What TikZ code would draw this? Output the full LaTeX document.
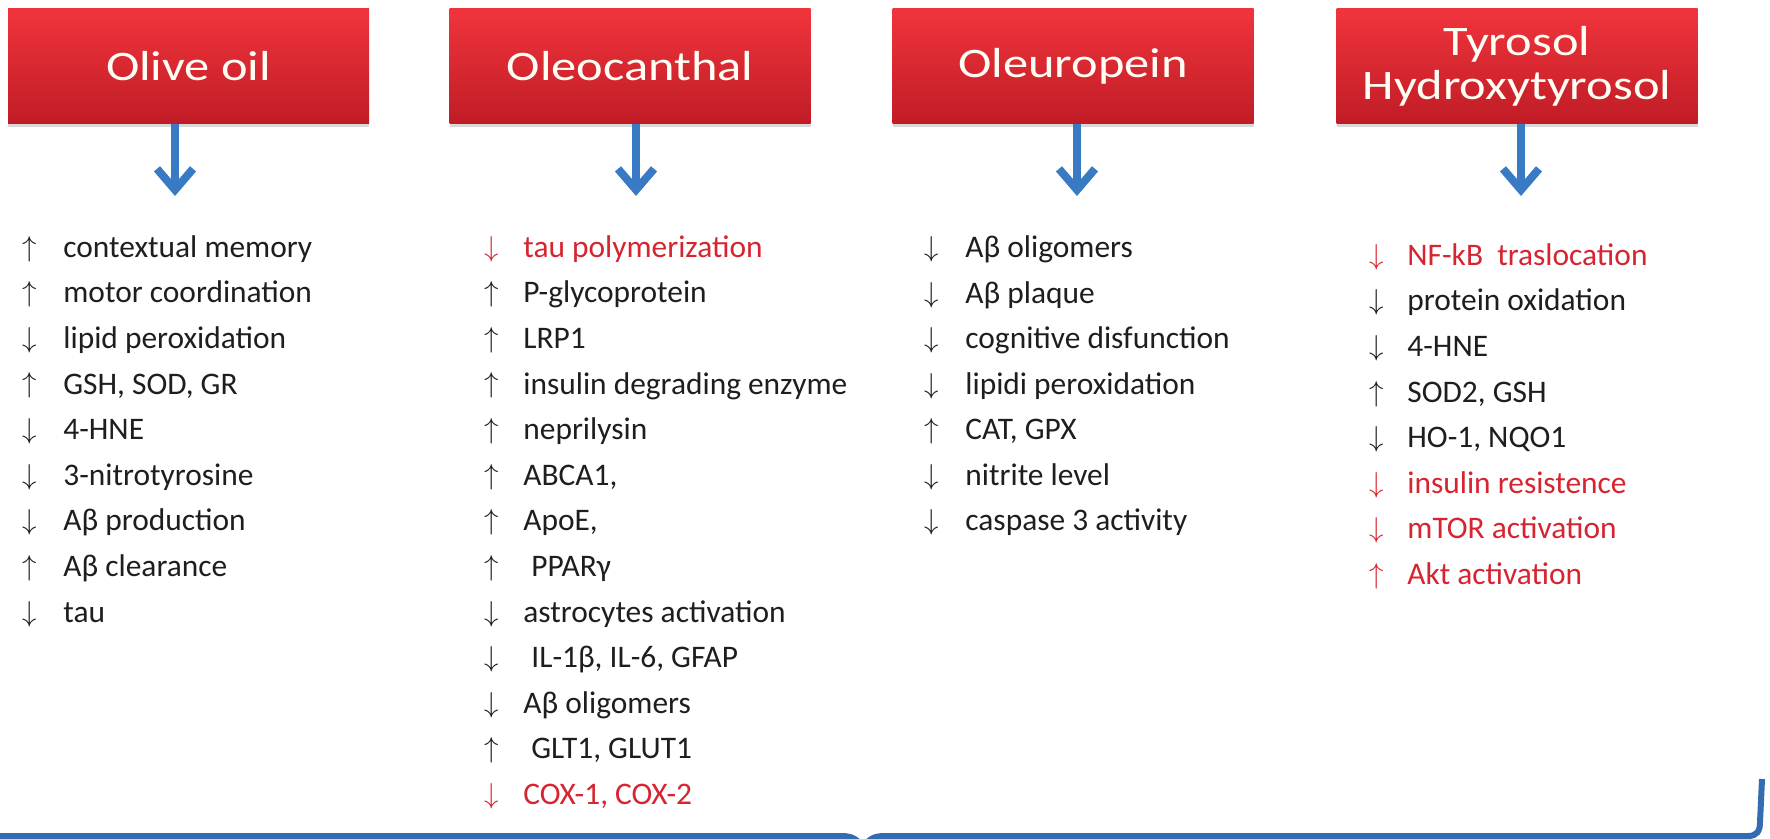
\documentclass[tikz,border=0pt]{standalone}
\usepackage{fontspec}
\usepackage{graphicx}
\setmainfont{Carlito}
\newfontfamily\headfont{Carlito}
\newcommand\wide[1]{\scalebox{1.2}[1]{#1}}
\usetikzlibrary{arrows.meta,shadows}
\definecolor{hdtop}{RGB}{240,52,60}
\definecolor{hdbot}{RGB}{192,28,38}
\definecolor{arrblue}{RGB}{56,122,196}
\definecolor{braceblue}{RGB}{52,108,178}
\definecolor{txtred}{RGB}{214,36,48}
\definecolor{txtblk}{RGB}{30,30,30}
\begin{document}
\begin{tikzpicture}[x=0.5pt,y=-0.5pt,
  header/.style={rectangle, minimum width=180.5pt, minimum height=57.5pt, inner sep=0pt,
    top color=hdtop, bottom color=hdbot, draw=none, text=white!96!yellow, align=center,
    font=\headfont\fontsize{21}{22}\selectfont,
    drop shadow={shadow xshift=0pt, shadow yshift=-1.5pt, opacity=0.3}},
  flow/.style={draw=arrblue, line width=4pt, -{Straight Barb[length=10.5pt,width=18pt]}},
  item/.style={anchor=base west, inner sep=0pt, font=\fontsize{15.7}{18}\selectfont},
  updown/.style={anchor=center, inner sep=0pt, font=\fontsize{15}{17}\selectfont},
  bracepath/.style={draw=braceblue, line width=3pt}
]
\useasboundingbox (0,0) rectangle (1770,839);
\fill[white] (0,0) rectangle (1770,839);
\clip (0,0) rectangle (1770,839);

% headers
\node[header] (h1) at (188.5,66.5) {\wide{Olive oil}};
\node[header] (h2) at (630,66.5) {\wide{Oleocanthal}};
\node[header] (h3) at (1073,66.5) {\wide{Oleuropein}};
\node[header] (h4) at (1517,66.5) {\wide{Tyrosol}\\\wide{Hydroxytyrosol}};

% arrows
\coordinate (e1) at (175,196);
\coordinate (e2) at (636,196);
\coordinate (e3) at (1077,196);
\coordinate (e4) at (1521,196);
\draw[flow] (e1 |- h1.south) -- (e1);
\draw[flow] (e2 |- h2.south) -- (e2);
\draw[flow] (e3 |- h3.south) -- (e3);
\draw[flow] (e4 |- h4.south) -- (e4);

% column 1
\foreach \d/\t/\c [count=\i from 0] in {
  \uparrow/contextual memory/txtblk,
  \uparrow/motor coordination/txtblk,
  \downarrow/lipid peroxidation/txtblk,
  \uparrow/{GSH, SOD, GR}/txtblk,
  \downarrow/4-HNE/txtblk,
  \downarrow/3-nitrotyrosine/txtblk,
  \downarrow/Aβ production/txtblk,
  \uparrow/Aβ clearance/txtblk,
  \downarrow/tau/txtblk}{
  \node[updown, text=\c] (a1-\i) at (30, 249+45.6*\i) {$\d$};
  \node[item, text=\c] (t1-\i) at (63, 257.3+45.6*\i) {\t};
}

% column 2
\foreach \d/\t/\c [count=\i from 0] in {
  \downarrow/tau polymerization/txtred,
  \uparrow/P-glycoprotein/txtblk,
  \uparrow/LRP1/txtblk,
  \uparrow/insulin degrading enzyme/txtblk,
  \uparrow/neprilysin/txtblk,
  \uparrow/{ABCA1,}/txtblk,
  \uparrow/{ApoE,}/txtblk,
  \uparrow/{\hspace{4pt}PPARγ}/txtblk,
  \downarrow/astrocytes activation/txtblk,
  \downarrow/{\hspace{4pt}IL-1β, IL-6, GFAP}/txtblk,
  \downarrow/Aβ oligomers/txtblk,
  \uparrow/{\hspace{4pt}GLT1, GLUT1}/txtblk,
  \downarrow/{COX-1, COX-2}/txtred}{
  \node[updown, text=\c] (a2-\i) at (492, 249+45.6*\i) {$\d$};
  \node[item, text=\c] (t2-\i) at (523, 257.3+45.6*\i) {\t};
}

% column 3
\foreach \d/\t/\c [count=\i from 0] in {
  \downarrow/Aβ oligomers/txtblk,
  \downarrow/Aβ plaque/txtblk,
  \downarrow/cognitive disfunction/txtblk,
  \downarrow/lipidi peroxidation/txtblk,
  \uparrow/{CAT, GPX}/txtblk,
  \downarrow/nitrite level/txtblk,
  \downarrow/caspase 3 activity/txtblk}{
  \node[updown, text=\c] (a3-\i) at (932, 249.5+45.5*\i) {$\d$};
  \node[item, text=\c] (t3-\i) at (965, 257.8+45.5*\i) {\t};
}

% column 4
\foreach \d/\t/\c [count=\i from 0] in {
  \downarrow/{NF-kB\ \ traslocation}/txtred,
  \downarrow/protein oxidation/txtblk,
  \downarrow/4-HNE/txtblk,
  \uparrow/{SOD2, GSH}/txtblk,
  \downarrow/{HO-1, NQO1}/txtblk,
  \downarrow/insulin resistence/txtred,
  \downarrow/mTOR activation/txtred,
  \uparrow/Akt activation/txtred}{
  \node[updown, text=\c] (a4-\i) at (1377, 257+45.6*\i) {$\d$};
  \node[item, text=\c] (t4-\i) at (1407, 265.3+45.6*\i) {\t};
}

% bottom brace
\draw[bracepath] (-10,836) -- (842,836) .. controls (855,836) and (863,842) .. (863,858);
\draw[bracepath] (863,858) .. controls (863,842) and (871,836) .. (884,836)
  -- (1748,836) .. controls (1757,836) and (1760,831) .. (1760,822) -- (1762,779);
\end{tikzpicture}
\end{document}
